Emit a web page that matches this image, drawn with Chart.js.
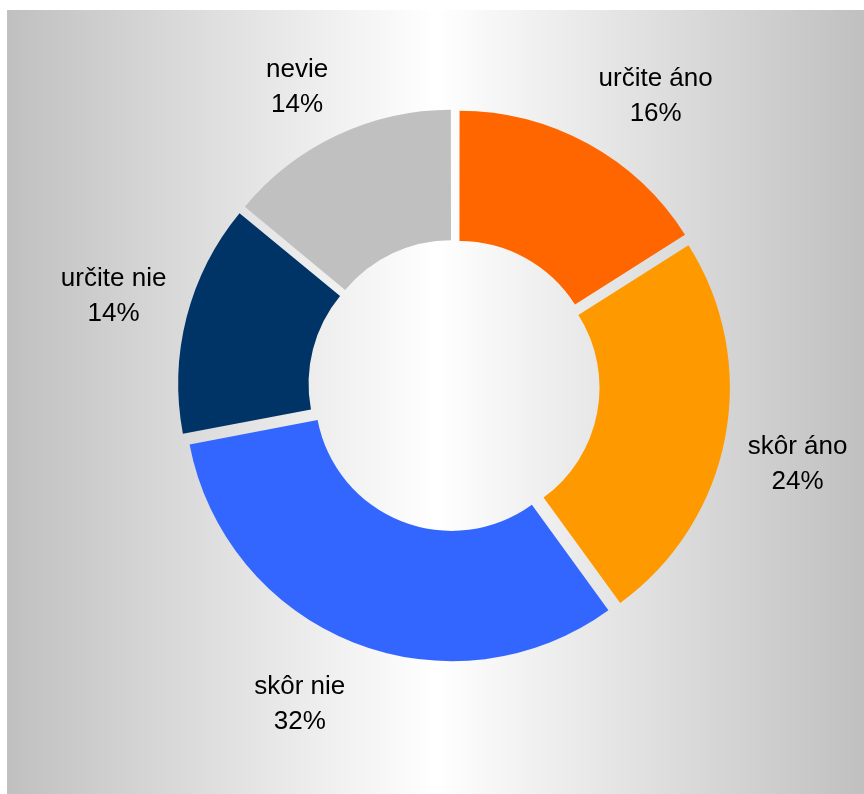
<!DOCTYPE html>
<html>
<head>
<meta charset="utf-8">
<script src="https://cdn.jsdelivr.net/npm/chart.js@4"></script>
<style>
  html, body { margin: 0; padding: 0; background: #fff; }
  #wrap { width: 864px; height: 794px; }
</style>
</head>
<body>
<div id="wrap"><canvas id="pieChart" width="864" height="794"></canvas></div>
<script>
// Data
const categories = ['určite áno', 'skôr áno', 'skôr nie', 'určite nie', 'nevie'];
const shares = [16, 24, 32, 14, 14];
const sliceColors = ['#FF6600', '#FF9900', '#3366FF', '#003366', '#C0C0C0'];

// gray - white - gray backdrop behind the pie
const backdrop = {
    id: 'backdrop',
    beforeDraw(chart) {
        const ctx = chart.ctx;
        const x0 = 7, y0 = 10, x1 = chart.width, y1 = chart.height;
        const g = ctx.createLinearGradient(x0, 0, x1, 0);
        g.addColorStop(0, '#c0c0c0');
        g.addColorStop(0.5, '#ffffff');
        g.addColorStop(1, '#c0c0c0');
        ctx.save();
        ctx.fillStyle = g;
        ctx.fillRect(x0, y0, x1 - x0, y1 - y0);
        ctx.restore();
    }
};

// category + percent outside each slice
const sliceLabels = {
    id: 'sliceLabels',
    afterDatasetsDraw(chart) {
        const ctx = chart.ctx;
        const meta = chart.getDatasetMeta(0);
        const total = shares.reduce((a, b) => a + b, 0);
        ctx.save();
        ctx.font = '26px "Liberation Sans", Arial, sans-serif';
        ctx.fillStyle = '#000';
        ctx.textAlign = 'center';
        ctx.textBaseline = 'middle';
        const lineH = 35;
        meta.data.forEach((arc, i) => {
            const p = arc.getProps(['x', 'y', 'startAngle', 'endAngle', 'outerRadius']);
            const mid = (p.startAngle + p.endAngle) / 2;
            const dx = Math.cos(mid), dy = Math.sin(mid);
            const r = p.outerRadius + 32;
            const ax = p.x + dx * r, ay = p.y + dy * r;
            const lines = [categories[i], Math.round(shares[i] / total * 100) + '%'];
            const w = Math.max(...lines.map(l => ctx.measureText(l).width));
            const h = lines.length * lineH;
            const cx = ax + Math.sign(dx) * w / 2;
            const cy = ay + Math.sign(dy) * Math.min(1, Math.abs(dy) * 2.5) * h / 2 + 6;
            lines.forEach((l, k) => {
                ctx.fillText(l, cx, cy + (k - (lines.length - 1) / 2) * lineH);
            });
        });
        ctx.restore();
    }
};

new Chart(document.getElementById('pieChart'), {
    type: 'doughnut',
    data: {
        labels: categories,
        datasets: [{
            data: shares,
            backgroundColor: sliceColors,
            borderWidth: 0,
            offset: 36,
            hoverOffset: 36,
            radius: 266,
            cutout: '51%'
        }]
    },
    options: {
        responsive: false,
        animation: false,
        layout: { padding: { left: 46, right: 0, top: 0, bottom: 22 } },
        plugins: {
            legend: { display: false },
            tooltip: { enabled: false }
        }
    },
    plugins: [backdrop, sliceLabels]
});
</script>
</body>
</html>
